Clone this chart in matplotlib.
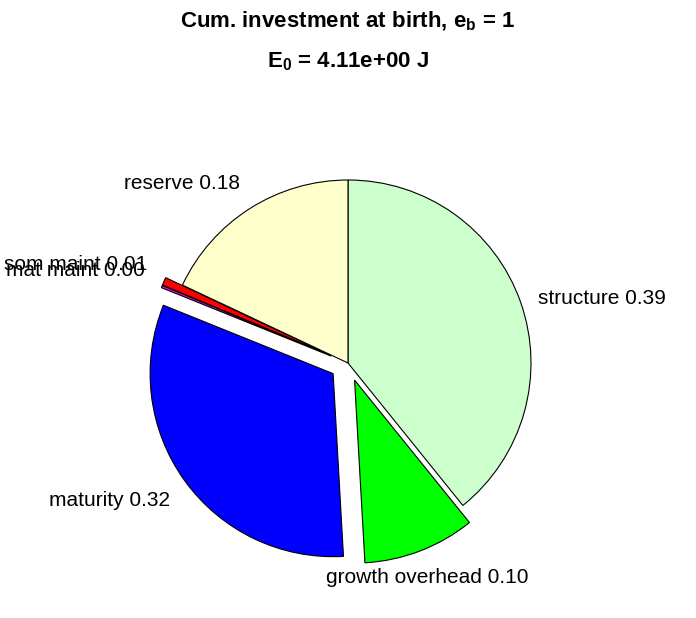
import numpy as np
import matplotlib
matplotlib.use("Agg")
import matplotlib.pyplot as plt

# fractions of the cumulative investment at birth (clockwise from top)
names = ["structure", "growth overhead", "maturity", "mat maint", "som maint", "reserve"]
fractions = [0.392, 0.099, 0.320, 0.002, 0.007, 0.180]
exploded = [0, 1, 1, 1, 1, 0]
colors = ["#ccffcc", "#00ff00", "#0000ff", "#ff00ff", "#ff0000", "#ffffcc"]

title_line1 = r"Cum. investment at birth, $\mathbf{e}_\mathbf{b}$ = 1"
title_line2 = r"$\mathbf{E}_\mathbf{0}$ = 4.11e+00 J"

plt.rcParams["font.family"] = ["Liberation Sans", "DejaVu Sans"]
plt.rcParams["mathtext.fontset"] = "custom"
plt.rcParams["mathtext.rm"] = "Liberation Sans"
plt.rcParams["mathtext.bf"] = "Liberation Sans:bold"
plt.rcParams["mathtext.it"] = "Liberation Sans:italic"


def main():
    W, H = 696, 618
    cx, cy, r = 348, 363, 183
    fig = plt.figure(figsize=(W / 100, H / 100), dpi=100)
    ax = fig.add_axes([0, 0, 1, 1])

    labels = [f"{n} {v:.2f}" for n, v in zip(names, fractions)]
    wedges, texts = ax.pie(
        fractions,
        explode=[0.1 * e for e in exploded],
        colors=colors,
        labels=labels,
        labeldistance=1.1,
        startangle=90,
        counterclock=False,
        wedgeprops=dict(edgecolor="black", linewidth=0.8),
        textprops=dict(fontsize=15),
    )

    # MATLAB-like label alignment
    for w, t in zip(wedges, texts):
        mid = np.deg2rad(0.5 * (w.theta1 + w.theta2))
        c, s = np.cos(mid), np.sin(mid)
        t.set_ha("left" if c > 0.45 else ("right" if c < -0.45 else "center"))
        t.set_va("bottom" if s > 0.37 else ("top" if s < -0.37 else "center_baseline"))

    ax.set_xlim(-cx / r, (W - cx) / r)
    ax.set_ylim((cy - H) / r, cy / r)
    ax.set_aspect("auto")
    ax.axis("off")

    fig.text(0.5, 1 - 27 / H, title_line1, ha="center", va="baseline",
             fontsize=16, fontweight="bold")
    fig.text(0.5, 1 - 67 / H, title_line2, ha="center", va="baseline",
             fontsize=16, fontweight="bold")

    fig.savefig("out.png", dpi=100)


if __name__ == "__main__":
    main()
